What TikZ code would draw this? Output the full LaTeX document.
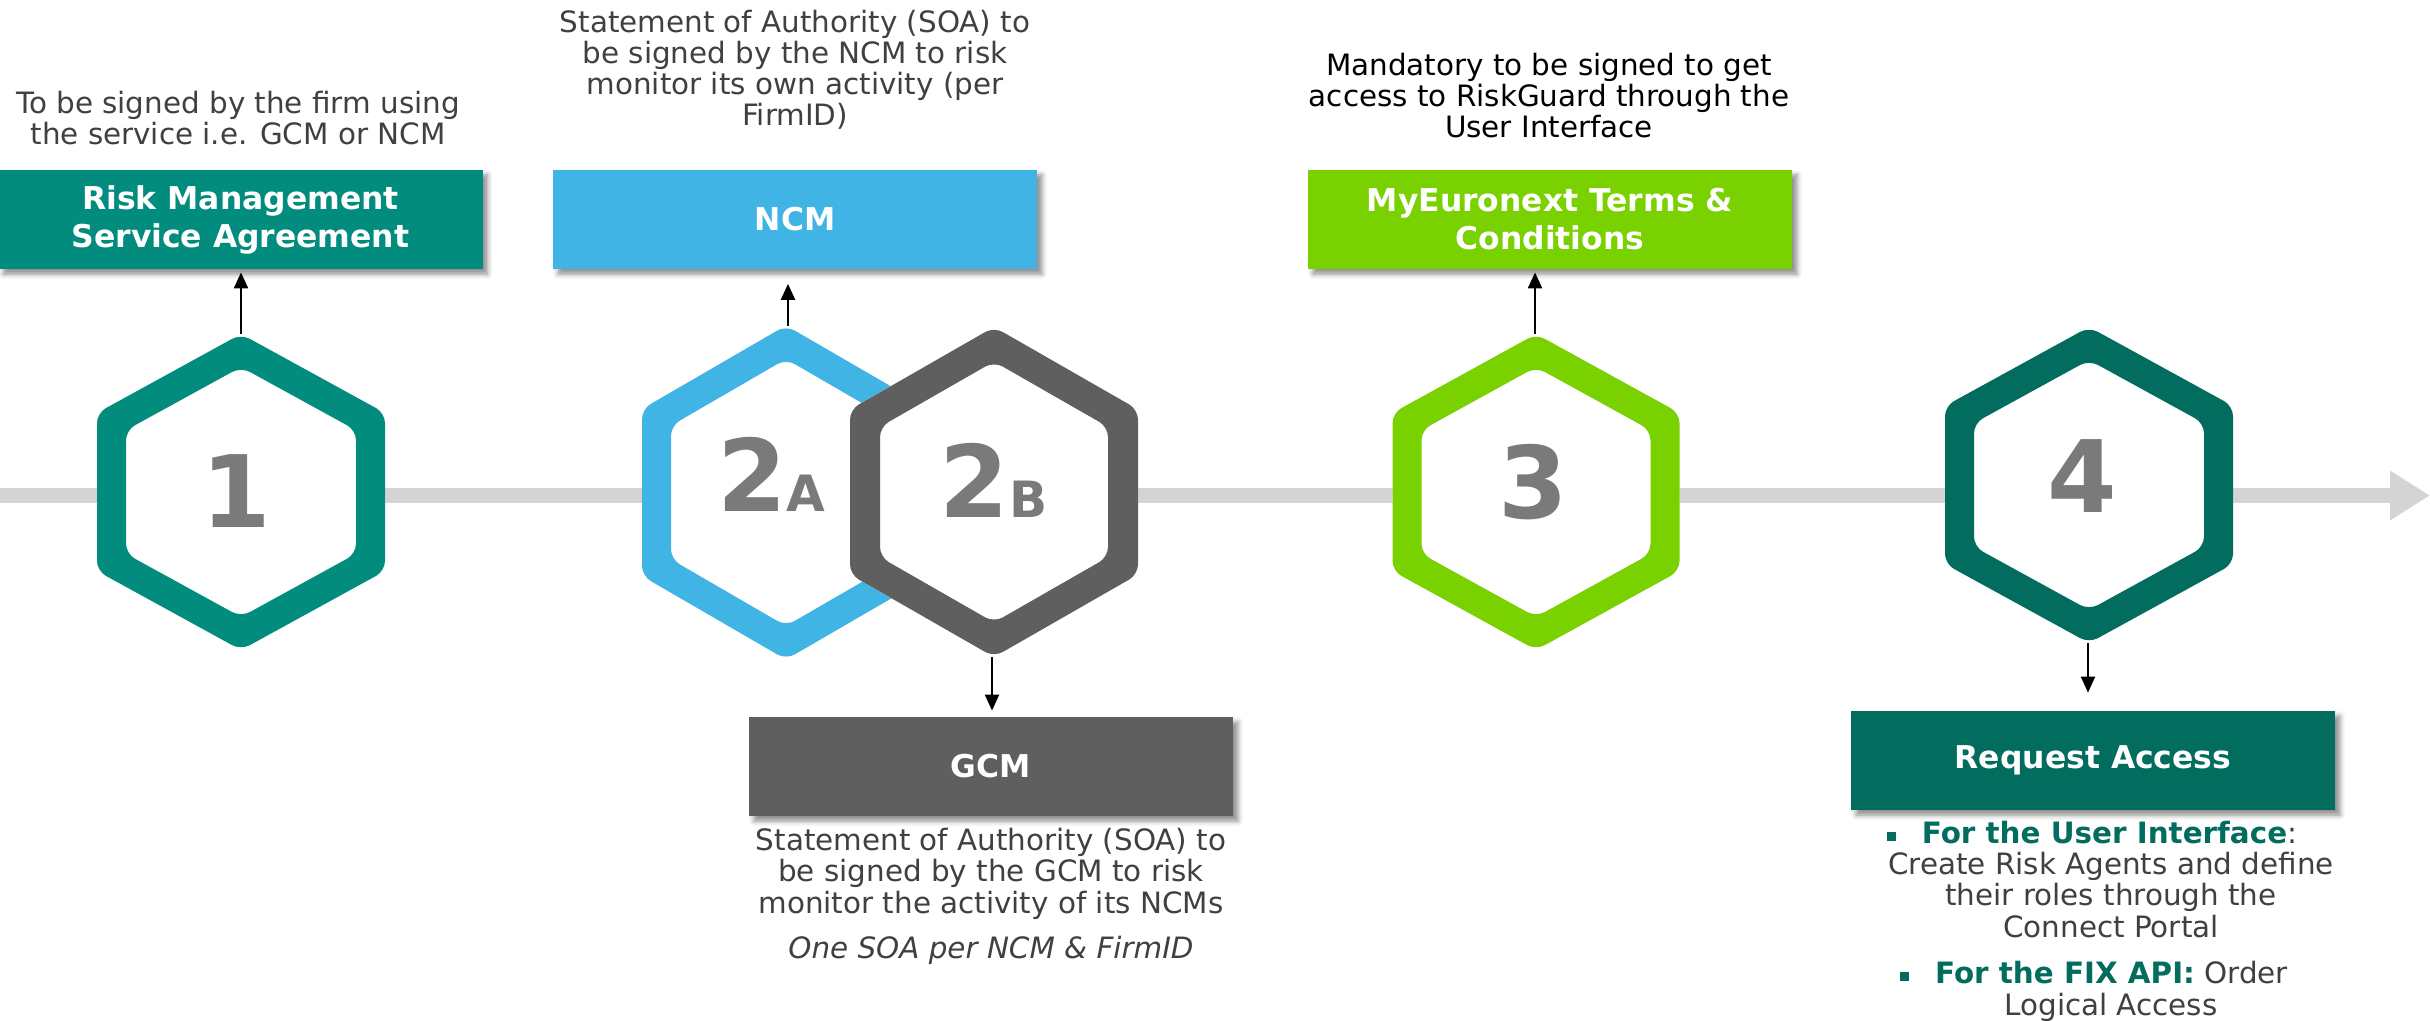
\documentclass[tikz,border=0pt]{standalone}
\usepackage{fontspec}
\setmainfont{DejaVu Sans}
\usetikzlibrary{arrows.meta,shadows.blur}
\definecolor{tealA}{RGB}{2,140,126}
\definecolor{blueA}{RGB}{65,180,230}
\definecolor{grayB}{RGB}{95,95,95}
\definecolor{greenC}{RGB}{122,209,0}
\definecolor{tealD}{RGB}{2,108,94}
\definecolor{numgray}{RGB}{122,122,122}
\definecolor{linegray}{RGB}{212,212,212}
\definecolor{txtgray}{RGB}{64,64,64}
\newcommand\bulsq{\raisebox{1.2pt}{\textcolor{tealD}{\rule{4.5pt}{4.5pt}}}}
\tikzset{
  pics/hexring/.style n args={4}{code={
    \pgfmathsetmacro\hW{#2}
    \pgfmathsetmacro\hH{#3}
    \pgfmathsetmacro\hT{#4}
    \pgfmathsetmacro\hHh{\hH/2}
    \pgfmathsetmacro\hL{100*sqrt((\hW/100)*(\hW/100)+(\hHh/100)*(\hHh/100))}
    \pgfmathsetmacro\iTop{\hH-\hT*\hL/\hW}
    \pgfmathsetmacro\iC{\hHh-\hT*\hL/\hW+\hT*\hHh/\hW}
    \pgfmathsetmacro\iW{\hW-\hT}
    \fill[white, rounded corners=5pt] (0,-\hH) -- (\hW,-\hHh) -- (\hW,\hHh) -- (0,\hH) -- (-\hW,\hHh) -- (-\hW,-\hHh) -- cycle;
    \fill[#1, even odd rule, rounded corners=5pt]
      (0,-\hH) -- (\hW,-\hHh) -- (\hW,\hHh) -- (0,\hH) -- (-\hW,\hHh) -- (-\hW,-\hHh) -- cycle
      (0,-\iTop) -- (\iW,-\iC) -- (\iW,\iC) -- (0,\iTop) -- (-\iW,\iC) -- (-\iW,-\iC) -- cycle;
  }},
  titlebox/.style={minimum width=242pt, minimum height=49.5pt, inner sep=0pt, text=white,
    font=\bfseries\fontsize{15.7}{19}\selectfont, align=center,
    blur shadow={shadow xshift=2.5pt, shadow yshift=-2.5pt, shadow blur radius=2.5pt, shadow opacity=45}},
  body/.style={font=\fontsize{14.7}{15.6}\selectfont, align=center, inner sep=0pt, anchor=base, text=txtgray},
  num/.style={font=\bfseries\fontsize{50}{50}\selectfont, text=numgray, inner sep=0pt, anchor=base},
  conn/.style={draw=black, line width=1.1pt, -{Triangle[length=8pt,width=7pt]}},
  timeline/.style={draw=linegray, line width=7.8pt, -{Triangle[length=20pt,width=23.5pt]}}
}
\begin{document}
\begin{tikzpicture}[x=0.5pt,y=-0.5pt]
\useasboundingbox (0,0) rectangle (2430,1021);
% timeline
\coordinate (lstart) at (0,495.5);
\coordinate (lend) at (2430,495.5);
\draw[timeline] (lstart) -- (lend);
% hexagons
\pic at (241,492) {hexring={tealA}{144}{158}{29}};
\pic at (786,492.5) {hexring={blueA}{144}{167}{29}};
\pic at (994,492) {hexring={grayB}{144}{165}{30}};
\pic at (1536,492) {hexring={greenC}{143.5}{158}{29}};
\pic at (2089,485) {hexring={tealD}{144}{158}{29}};
\coordinate (h1t) at (241,334);
\coordinate (h2at) at (788,326);
\coordinate (h2bb) at (992,657);
\coordinate (h3t) at (1535,334);
\coordinate (h4b) at (2088,643);
% numbers
\node[num] (n1) at (236.5,527) {1};
\node[num] (n2a) at (771.5,511) {2{\fontsize{25}{25}\selectfont A}};
\node[num] (n2b) at (993.5,517) {2{\fontsize{25}{25}\selectfont B}};
\node[num] (n3) at (1533,518) {3};
\node[num] (n4) at (2082.5,512) {4};
% boxes
\node[titlebox, fill=tealA] (b1) at (240.5,219.5) {Risk Management\\Service Agreement};
\node[titlebox, fill=blueA] (ncm) at (795,219.5) {NCM};
\node[titlebox, fill=greenC] (b3) at (1550,219.5) {MyEuronext Terms \&\\Conditions};
\node[titlebox, fill=grayB] (gcm) at (991,766.5) {GCM};
\node[titlebox, fill=tealD] (b4) at (2093,760.5) {Request Access};
% texts (anchor = baseline of last line)
\node[body] (t1) at (238,145) {To be signed by the firm using\\the service i.e. GCM or NCM};
\node[body] (t2) at (795,126) {Statement of Authority (SOA) to\\be signed by the NCM to risk\\monitor its own activity (per\\FirmID)};
\node[body, text=black] (t3) at (1549,138) {Mandatory to be signed to get\\access to RiskGuard through the\\User Interface};
\node[body] (t4) at (991,958) {Statement of Authority (SOA) to\\be signed by the GCM to risk\\monitor the activity of its NCMs\\[6.9pt]\textit{One SOA per NCM \& FirmID}};
\node[body] (bul1) at (2111,937) {\bulsq\hspace{13pt}{\bfseries\color{tealD}For the User Interface}:\hspace*{19pt}\\Create Risk Agents and define\\their roles through the\\Connect Portal};
\node[body] (bul2) at (2111,1015) {\bulsq\hspace{13pt}{\bfseries\color{tealD}For the FIX API:} Order\hspace*{17pt}\\Logical Access};
% connectors
\draw[conn] (h1t) -- ([yshift=-1.5pt]h1t |- b1.south);
\draw[conn] (h2at) -- ([yshift=-7.25pt]h2at |- ncm.south);
\draw[conn] (h3t) -- ([yshift=-1.5pt]h3t |- b3.south);
\draw[conn] (h2bb) -- ([yshift=3pt]h2bb |- gcm.north);
\draw[conn] (h4b) -- ([yshift=9pt]h4b |- b4.north);
\end{tikzpicture}
\end{document}
